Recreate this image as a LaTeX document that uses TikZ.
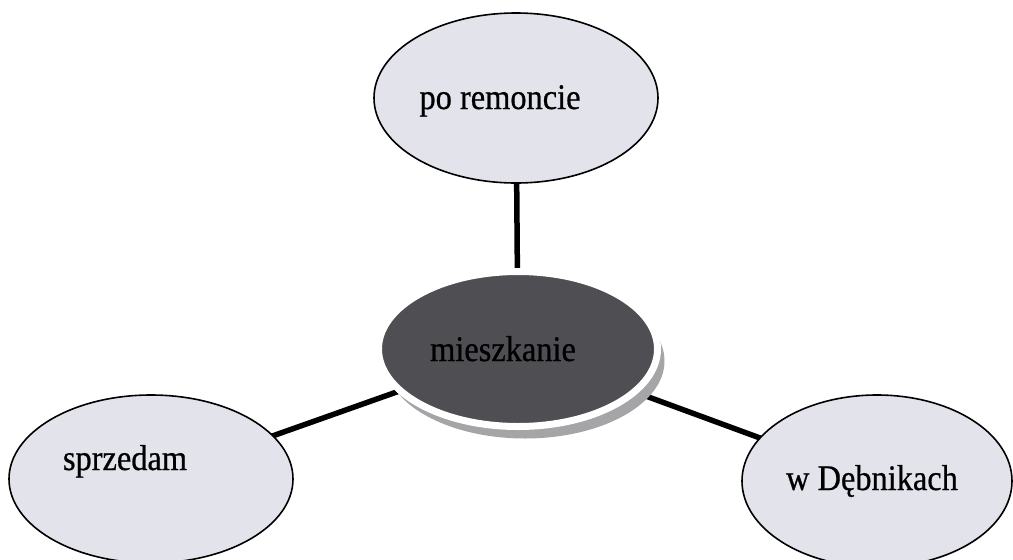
\documentclass[tikz,border=0pt]{standalone}
\usepackage{fontspec}
\setmainfont{Liberation Serif}
\newfontfamily\labelfont[FakeStretch=0.9,FakeBold=0.6]{Liberation Serif}
\usetikzlibrary{shapes.geometric,backgrounds,shadows}
\definecolor{bubblefill}{RGB}{227,227,235}
\definecolor{hubfill}{RGB}{78,78,83}
\definecolor{hubshadow}{RGB}{165,165,168}
\begin{document}
\begin{tikzpicture}[x=1pt,y=-1pt,
  bubble/.style={ellipse, draw=black, line width=1.6pt, fill=bubblefill, inner sep=0pt},
  hub/.style={ellipse, fill=hubfill, draw=white, line width=7pt, inner sep=0pt,
    minimum width=279pt, minimum height=155pt,
    drop shadow={shadow xshift=7pt, shadow yshift=-12pt, fill=hubshadow, opacity=1}},
  word/.style={anchor=base, font=\labelfont\fontsize{36}{40}\selectfont, text=black, inner sep=0pt},
  conn/.style={line width=5.5pt, black}]
  \useasboundingbox (0,0) rectangle (1013,560);

  % outer ideas
  \node[bubble, minimum width=284pt, minimum height=170pt] (top) at (516,98) {};
  \node[bubble, minimum width=284pt, minimum height=168pt] (left) at (151,479) {};
  \node[bubble, minimum width=270pt, minimum height=172pt] (right) at (877,481) {};

  % central idea
  \node[hub] (hub) at (518,349) {};

  % labels
  \node[word] (tTop) at (500,109) {po remoncie};
  \node[word] (tLeft) at (125,470) {sprzedam};
  \node[word] (tRight) at (872,490) {w Dębnikach};
  \node[word] (tHub) at (503,361) {mieszkanie};

  % spokes behind the ellipses
  \begin{scope}[on background layer]
    \draw[conn] (top.center) -- (hub.center);
    \draw[conn] (left.center) -- (hub.center);
    \draw[conn] (right.center) -- (hub.center);
  \end{scope}
\end{tikzpicture}
\end{document}
